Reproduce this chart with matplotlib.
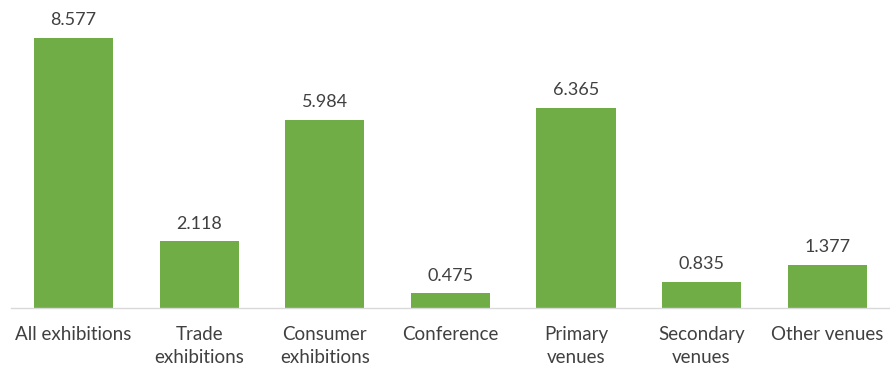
import matplotlib
matplotlib.use("Agg")
import matplotlib.pyplot as plt

categories = ["All exhibitions", "Trade\nexhibitions", "Consumer\nexhibitions",
              "Conference", "Primary\nvenues", "Secondary\nvenues", "Other venues"]
values = [8.577, 2.118, 5.984, 0.475, 6.365, 0.835, 1.377]
value_labels = ["8.577", "2.118", "5.984", "0.475", "6.365", "0.835", "1.377"]

plt.rcParams['font.family'] = ['Lato', 'DejaVu Sans']

fig = plt.figure(figsize=(8.9, 3.72), dpi=100)
ax = fig.add_axes([0.012, 0.172, 0.988, 0.762])

x = range(len(categories))
bars = ax.bar(x, values, width=0.63, color="#70AD47")
for b, lab in zip(bars, value_labels):
    ax.text(b.get_x() + b.get_width() / 2, b.get_height() + 0.3, lab,
            ha="center", va="bottom", fontsize=13, color="#404040")

ax.set_xlim(-0.5, len(categories) - 0.5)
ax.set_ylim(0, 9)
ax.set_xticks(list(x))
ax.set_xticklabels(categories, fontsize=13.5, color="#404040", linespacing=1.4)
ax.tick_params(axis="x", length=0, pad=13)
ax.set_yticks([])
for s in ["top", "right", "left"]:
    ax.spines[s].set_visible(False)
ax.spines["bottom"].set_color("#D9D9D9")
ax.spines["bottom"].set_linewidth(1)

fig.savefig("out.png", dpi=100)
